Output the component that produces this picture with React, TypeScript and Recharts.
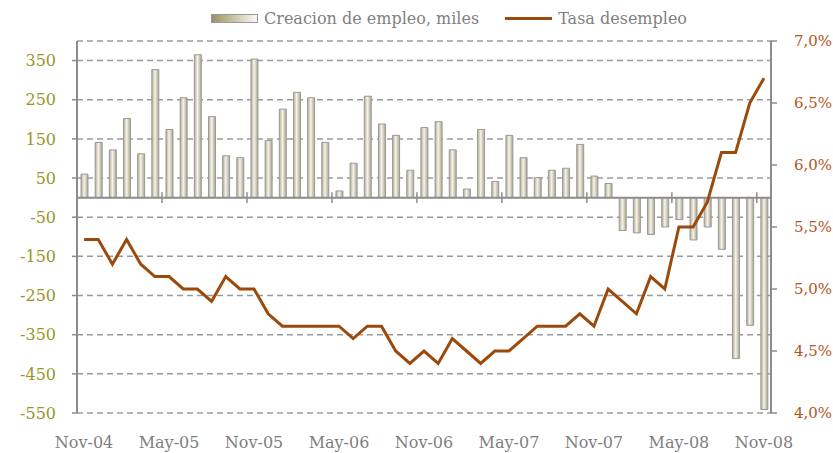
import React from 'react';
import { ComposedChart, Bar, Line, XAxis, YAxis, CartesianGrid, ReferenceLine } from 'recharts';

const months = [
  'Nov-04', 'Dec-04', 'Jan-05', 'Feb-05', 'Mar-05', 'Apr-05', 'May-05', 'Jun-05', 'Jul-05', 'Aug-05', 'Sep-05', 'Oct-05',
  'Nov-05', 'Dec-05', 'Jan-06', 'Feb-06', 'Mar-06', 'Apr-06', 'May-06', 'Jun-06', 'Jul-06', 'Aug-06', 'Sep-06', 'Oct-06',
  'Nov-06', 'Dec-06', 'Jan-07', 'Feb-07', 'Mar-07', 'Apr-07', 'May-07', 'Jun-07', 'Jul-07', 'Aug-07', 'Sep-07', 'Oct-07',
  'Nov-07', 'Dec-07', 'Jan-08', 'Feb-08', 'Mar-08', 'Apr-08', 'May-08', 'Jun-08', 'Jul-08', 'Aug-08', 'Sep-08', 'Oct-08',
  'Nov-08',
];

// creacion de empleo (miles)
const empleo = [
  60, 141, 122, 202, 112, 327, 174, 255, 365, 207, 107, 102,
  354, 146, 226, 269, 255, 141, 17, 88, 259, 188, 159, 70,
  179, 194, 122, 22, 174, 41, 159, 102, 51, 70, 75, 136,
  55, 36, -84, -90, -94, -75, -56, -108, -75, -132, -411, -326,
  -541,
];

// tasa de desempleo (%)
const desempleo = [
  5.4, 5.4, 5.2, 5.4, 5.2, 5.1, 5.1, 5.0, 5.0, 4.9, 5.1, 5.0,
  5.0, 4.8, 4.7, 4.7, 4.7, 4.7, 4.7, 4.6, 4.7, 4.7, 4.5, 4.4,
  4.5, 4.4, 4.6, 4.5, 4.4, 4.5, 4.5, 4.6, 4.7, 4.7, 4.7, 4.8,
  4.7, 5.0, 4.9, 4.8, 5.1, 5.0, 5.5, 5.5, 5.7, 6.1, 6.1, 6.5,
  6.7,
];

const leftTicks = [-550, -450, -350, -250, -150, -50, 50, 150, 250, 350];
const rightTicks = [4.0, 4.5, 5.0, 5.5, 6.0, 6.5, 7.0];
const tickMonths = ['May-05', 'Nov-05', 'May-06', 'Nov-06', 'May-07', 'Nov-07', 'May-08', 'Nov-08'];

const data = months.map((m, i) => ({ month: m, empleo: empleo[i], desempleo: desempleo[i] }));

const FONT = '"DejaVu Serif", serif';
const AXIS = '#8c8c8c';
const LINE = '#9c4a0c';

export default function App() {
  return (
    <div style={{ position: 'absolute', left: 0, top: 0, width: 833, height: 453, background: '#fff', fontFamily: FONT }}>
      {/* legend */}
      <div style={{ position: 'absolute', top: 9, left: 211, display: 'flex', alignItems: 'center', fontSize: 16, color: '#808080', whiteSpace: 'nowrap' }}>
        <span style={{ display: 'inline-block', width: 45, height: 7, border: '1px solid #999', background: 'linear-gradient(to right, #9a9262, #fbfaf5)', marginRight: 6 }} />
        <span>Creacion de empleo, miles</span>
        <span style={{ display: 'inline-block', width: 47, height: 3, background: LINE, marginLeft: 26, marginRight: 6 }} />
        <span>Tasa desempleo</span>
      </div>
      <ComposedChart width={833} height={453} data={data} margin={{ top: 41, right: 0, bottom: 0, left: 0 }} barSize={7}>
        <defs>
          <linearGradient id="barFill" x1="0" y1="0" x2="1" y2="0">
            <stop offset="0%" stopColor="#b0aa8c" />
            <stop offset="45%" stopColor="#f5f3ec" />
            <stop offset="100%" stopColor="#aaa488" />
          </linearGradient>
        </defs>
        <CartesianGrid yAxisId="left" vertical={false} stroke="#9a9a9a" strokeWidth={1.5} strokeDasharray="6 4" />
        <XAxis
          dataKey="month"
          interval={5}
          axisLine={false}
          tickLine={false}
          height={40}
          tickSize={6}
          tickMargin={18}
          tick={{ fill: '#7f7f7f', fontSize: 16, fontFamily: FONT }}
        />
        <YAxis
          yAxisId="left"
          width={77}
          domain={[-550, 400]}
          ticks={leftTicks}
          allowDataOverflow
          axisLine={{ stroke: AXIS, strokeWidth: 2 }}
          tickLine={{ stroke: AXIS, strokeWidth: 1.5 }}
          tickSize={5}
          tickMargin={16}
          tick={{ fill: '#979728', fontSize: 16, fontFamily: FONT }}
        />
        <YAxis
          yAxisId="right"
          orientation="right"
          width={62}
          domain={[4, 7]}
          ticks={rightTicks}
          allowDataOverflow
          axisLine={{ stroke: AXIS, strokeWidth: 2 }}
          tickLine={{ stroke: AXIS, strokeWidth: 1.5 }}
          tickSize={6}
          tickMargin={17}
          tickFormatter={(v: number) => v.toFixed(1).replace('.', ',') + '%'}
          tick={{ fill: '#b5531b', fontSize: 15, fontFamily: FONT }}
        />
        <Bar yAxisId="left" dataKey="empleo" fill="url(#barFill)" stroke="#9a9a9a" strokeWidth={1} isAnimationActive={false} />
        <ReferenceLine yAxisId="left" y={0} stroke={AXIS} strokeWidth={2} />
        {tickMonths.map((m) => (
          <ReferenceLine
            key={m}
            yAxisId="left"
            position="start"
            segment={[{ x: m, y: -14 }, { x: m, y: 14 }]}
            stroke={AXIS}
            strokeWidth={1.5}
          />
        ))}
        <Line yAxisId="right" type="linear" dataKey="desempleo" stroke={LINE} strokeWidth={3} dot={false} isAnimationActive={false} />
      </ComposedChart>
    </div>
  );
}
